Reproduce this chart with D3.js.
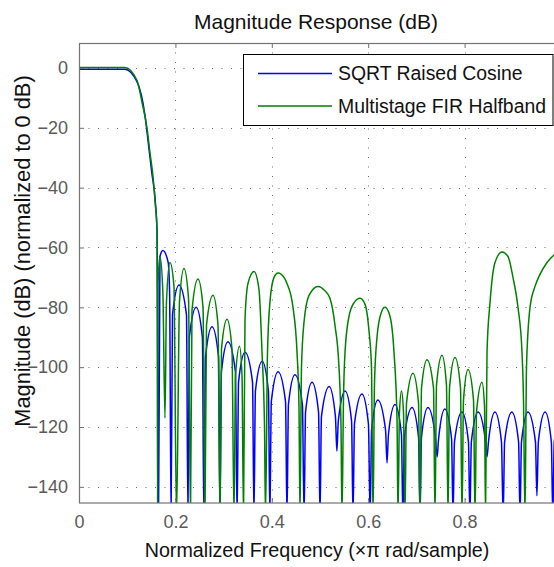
<!DOCTYPE html>
<html>
<head>
<meta charset="utf-8">
<script src="https://cdn.jsdelivr.net/npm/d3@7"></script>
<style>
  body { margin: 0; background: #fff; }
  svg text { font-family: "Liberation Sans", Arial, sans-serif; }
</style>
</head>
<body>
<div id="chart"></div>
<script>
var svgWidth = 554;
var svgHeight = 567;

var margin = {
  top: 43,
  left: 79
};

// axes box runs past the right edge of the picture (x = 1 sits off-screen)
var width = 482;
var height = 460;

// data
var xTicks = [0, 0.2, 0.4, 0.6, 0.8, 1];
var yTicks = [0, -20, -40, -60, -80, -100, -120, -140];
var legendLabels = ["SQRT Raised Cosine", "Multistage FIR Halfband"];
var seriesColors = ["#0000ff", "#008000"];

var blueFreq = [0, 0.095, 0.120, 0.137, 0.143, 0.151, 0.158, 0.162, 0.165,
  0.168, 0.174, 0.185, 0.188, 0.191,
  0.194, 0.2075, 0.223, 0.226,
  0.229, 0.243, 0.256, 0.259,
  0.2625, 0.276, 0.2895, 0.2925,
  0.2955, 0.309, 0.3245, 0.328,
  0.331, 0.3445, 0.360, 0.363,
  0.366, 0.380, 0.393, 0.396,
  0.399, 0.413, 0.4285, 0.4315,
  0.4345, 0.448, 0.4635, 0.467,
  0.470, 0.4835, 0.497, 0.500,
  0.503, 0.519, 0.532, 0.535,
  0.538, 0.552, 0.5655, 0.5685,
  0.5715, 0.587, 0.6005, 0.604,
  0.607, 0.620, 0.636, 0.639,
  0.642, 0.6555, 0.669, 0.672,
  0.675, 0.691, 0.7045, 0.7075,
  0.7105, 0.724, 0.7395, 0.743,
  0.746, 0.759, 0.773, 0.776,
  0.779, 0.7945, 0.808, 0.811,
  0.814, 0.828, 0.8435, 0.8465,
  0.8495, 0.863, 0.8765, 0.880,
  0.883, 0.898, 0.912, 0.915,
  0.918, 0.9315, 0.947, 0.950,
  0.953, 0.967, 0.980, 0.983,
  0.986, 1.0];

var blueMag = [-0.4, -0.4, -4.5, -16, -24, -35, -44, -55, -150,
  -63, -61, -65, -75, -150,
  -82.5, -72.5, -82.5, -150,
  -90, -80, -90, -150,
  -96.5, -86.5, -96.5, -150,
  -101.5, -91.5, -101.5, -150,
  -105, -95, -105, -150,
  -108, -98, -108, -150,
  -111.5, -101.5, -111.5, -150,
  -112.5, -102.5, -112.5, -150,
  -115, -105, -115, -150,
  -116.5, -106.5, -116.5, -128,
  -118, -108, -118, -150,
  -119, -109, -119, -150,
  -121, -111, -121, -132,
  -122.5, -112.5, -122.5, -150,
  -123.5, -113.5, -123.5, -150,
  -123.5, -113.5, -123.5, -130,
  -124, -114, -124, -150,
  -125, -115, -125, -150,
  -125, -115, -125, -130,
  -125, -115, -125, -150,
  -125, -115, -125, -150,
  -125, -115, -125, -143,
  -125, -115, -125, -150,
  -125, -115];

var greenFreq = [0, 0.095, 0.120, 0.131, 0.141, 0.147, 0.154, 0.158, 0.162, 0.163,
  0.164, 0.168, 0.174, 0.1784,
  0.1815, 0.1888, 0.197, 0.2023,
  0.2085, 0.2178, 0.2272, 0.2313,
  0.2344, 0.2469, 0.2573, 0.2614,
  0.2645, 0.278, 0.2884, 0.2925,
  0.2956, 0.3071, 0.3174, 0.3216,
  0.3247, 0.333, 0.3382, 0.3413,
  0.3444, 0.3506, 0.3631, 0.3734, 0.3797, 0.3849, 0.3869,
  0.3911, 0.3963, 0.4046, 0.4129, 0.4253, 0.4315, 0.444, 0.4523, 0.4564, 0.4585,
  0.4616, 0.4668, 0.4772, 0.4959, 0.5104, 0.5207, 0.5311, 0.5394, 0.5436, 0.5456,
  0.5488, 0.5519, 0.5602, 0.5705, 0.583, 0.5934, 0.6017, 0.6068, 0.61,
  0.6131, 0.6183, 0.6266, 0.6349, 0.6452, 0.6535, 0.6598, 0.6618,
  0.6649, 0.6691, 0.6732, 0.6763,
  0.6795, 0.6929, 0.7044, 0.7075,
  0.7106, 0.722, 0.7355, 0.7386,
  0.7417, 0.7531, 0.7624, 0.7656,
  0.7687, 0.7801, 0.7915, 0.7946,
  0.7977, 0.8071, 0.8185, 0.8216,
  0.8247, 0.8361, 0.8413, 0.8434,
  0.8465, 0.8527, 0.8631, 0.8776, 0.89, 0.9004, 0.9108, 0.9191, 0.9222, 0.9253,
  0.9284, 0.9357, 0.9461, 0.9564, 0.971, 0.9855, 1.0];

var greenMag = [0.2, 0.2, -4, -11.7, -20, -28, -37, -45, -55, -150,
  -72, -63, -75, -117,
  -78, -65, -73, -150,
  -78, -67, -77, -150,
  -81, -70.5, -80, -150,
  -86, -76, -86, -150,
  -94, -84, -94, -150,
  -103, -93, -103, -150,
  -84, -72, -68, -74, -95, -120, -150,
  -95, -78, -70, -68.5, -70, -72, -80, -95, -113, -150,
  -100, -85, -76, -73, -74.5, -77, -86, -100, -120, -150,
  -110, -95, -83, -78.5, -77, -79, -88, -100, -150,
  -105, -90, -82, -80, -83, -95, -117.5, -150,
  -115, -108, -115, -150,
  -112, -102, -112, -150,
  -107, -97.5, -107, -150,
  -106, -96, -106, -150,
  -107, -96.8, -107, -150,
  -111, -100.8, -111, -150,
  -115, -105, -113, -150,
  -95, -78.5, -65, -61.5, -63, -70, -80, -95, -111, -150,
  -100, -80, -73, -69, -65, -62.5, -61];

var series = [
  blueFreq.map((f, i) => ({f: f, db: blueMag[i]})),
  greenFreq.map((f, i) => ({f: f, db: greenMag[i]}))
];

var svg = d3
  .select("#chart")
  .append("svg")
  .attr("width", svgWidth)
  .attr("height", svgHeight);

var chartGroup = svg.append("g")
  .attr("transform", `translate(${margin.left}, ${margin.top})`);

var xLinearScale = d3.scaleLinear()
  .domain([0, 1])
  .range([0, width]);

var yLinearScale = d3.scaleLinear()
  .domain([-145.4, 8.35])
  .range([height, 0]);

// dotted grid
var gridGroup = chartGroup.append("g")
  .attr("stroke", "#6a6a6a")
  .attr("stroke-width", 1)
  .attr("stroke-dasharray", "1,8.5");

gridGroup.selectAll(".vgrid")
  .data(xTicks.slice(1, -1))
  .enter()
  .append("line")
  .attr("x1", d => Math.round(xLinearScale(d)) + 0.5)
  .attr("x2", d => Math.round(xLinearScale(d)) + 0.5)
  .attr("y1", 0)
  .attr("y2", height);

gridGroup.selectAll(".hgrid")
  .data(yTicks)
  .enter()
  .append("line")
  .attr("x1", 0)
  .attr("x2", width)
  .attr("y1", d => Math.round(yLinearScale(d)) + 0.5)
  .attr("y2", d => Math.round(yLinearScale(d)) + 0.5);

// response curves
chartGroup.append("clipPath")
  .attr("id", "plotClip")
  .append("rect")
  .attr("width", width)
  .attr("height", height);

var responseLine = d3.line()
  .x(d => xLinearScale(d.f))
  .y(d => yLinearScale(d.db))
  .curve(d3.curveMonotoneX);

chartGroup.append("g")
  .attr("clip-path", "url(#plotClip)")
  .selectAll("path")
  .data(series)
  .enter()
  .append("path")
  .attr("d", d => responseLine(d))
  .attr("fill", "none")
  .attr("stroke", (d, i) => seriesColors[i])
  .attr("stroke-width", 1.5)
  .attr("stroke-linejoin", "round");

// axes (ticks point inward like matlab); the "1" label falls outside the picture
var bottomAxis = d3.axisBottom(xLinearScale)
  .tickValues(xTicks)
  .tickFormat(d => d === 1 ? "" : d3.format("~g")(d))
  .tickSizeInner(-5)
  .tickSizeOuter(0)
  .tickPadding(12);

var topAxis = d3.axisTop(xLinearScale)
  .tickValues(xTicks)
  .tickFormat("")
  .tickSizeInner(-5)
  .tickSizeOuter(0);

var leftAxis = d3.axisLeft(yLinearScale)
  .tickValues(yTicks)
  .tickSizeInner(-5)
  .tickSizeOuter(0)
  .tickPadding(11);

var xAxis = chartGroup.append("g")
  .attr("transform", `translate(0, ${height})`)
  .call(bottomAxis);

var xTopAxis = chartGroup.append("g")
  .call(topAxis);

var yAxis = chartGroup.append("g")
  .call(leftAxis);

[xAxis, xTopAxis, yAxis].forEach(function(ax) {
  ax.select(".domain").remove();
  ax.selectAll("line").attr("stroke", "#6e6e6e");
  ax.selectAll("text")
    .attr("fill", "#5a5a5a")
    .style("font-size", "18px");
});

// axes box
chartGroup.append("rect")
  .attr("x", 0.5)
  .attr("y", 0.5)
  .attr("width", width)
  .attr("height", height - 0.5)
  .attr("fill", "none")
  .attr("stroke", "#747474")
  .attr("stroke-width", 1.2);

// legend
var legendGroup = svg.append("g")
  .attr("transform", "translate(243.5, 54.5)");

legendGroup.append("rect")
  .attr("width", 309.5)
  .attr("height", 71)
  .attr("fill", "#fff")
  .attr("stroke", "#000")
  .attr("stroke-width", 1);

var legendItems = legendGroup.selectAll(".item")
  .data(legendLabels)
  .enter()
  .append("g")
  .attr("transform", (d, i) => `translate(0, ${i === 0 ? 19 : 51.5})`);

legendItems.append("line")
  .attr("x1", 14.5)
  .attr("x2", 88.5)
  .attr("stroke", (d, i) => seriesColors[i])
  .attr("stroke-width", 1.5);

legendItems.append("text")
  .attr("x", 94.5)
  .attr("y", 6.5)
  .style("font-size", "19.4px")
  .attr("fill", "#111")
  .text(d => d);

// titles
svg.append("text")
  .attr("x", 316)
  .attr("y", 29)
  .attr("text-anchor", "middle")
  .style("font-size", "21px")
  .attr("fill", "#111")
  .text("Magnitude Response (dB)");

svg.append("text")
  .attr("x", 317)
  .attr("y", 557)
  .attr("text-anchor", "middle")
  .style("font-size", "19.7px")
  .attr("fill", "#111")
  .text("Normalized Frequency (\u00d7\u03c0 rad/sample)");

svg.append("text")
  .attr("transform", "translate(30, 251) rotate(-90)")
  .attr("text-anchor", "middle")
  .style("font-size", "21.8px")
  .attr("fill", "#111")
  .text("Magnitude (dB) (normalized to 0 dB)");
</script>
</body>
</html>
